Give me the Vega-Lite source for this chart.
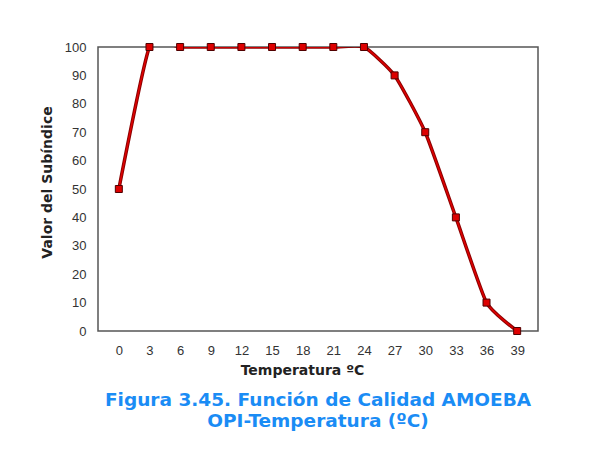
{
  "$schema": "https://vega.github.io/schema/vega-lite/v6.json",
  "width": 440,
  "height": 284,
  "autosize": "none",
  "padding": {"left": 98, "top": 47, "right": 64, "bottom": 128},
  "background": "#ffffff",
  "data": {"values": [
    {"t": 0, "v": 50}, {"t": 3, "v": 100}, {"t": 6, "v": 100}, {"t": 9, "v": 100},
    {"t": 12, "v": 100}, {"t": 15, "v": 100}, {"t": 18, "v": 100}, {"t": 21, "v": 100},
    {"t": 24, "v": 100}, {"t": 27, "v": 90}, {"t": 30, "v": 70}, {"t": 33, "v": 40},
    {"t": 36, "v": 10}, {"t": 39, "v": 0}
  ]},
  "title": {
    "text": ["Figura 3.45. Función de Calidad AMOEBA", "OPI-Temperatura (ºC)"],
    "orient": "bottom",
    "anchor": "middle",
    "font": "DejaVu Sans",
    "fontSize": 18.5,
    "fontWeight": "bold",
    "color": "#1a8cf5",
    "lineHeight": 21,
    "offset": 14
  },
  "config": {
    "view": {"stroke": "#555555", "strokeWidth": 1.5},
    "axis": {
      "grid": false, "ticks": false, "domain": false,
      "labelFont": "Liberation Sans", "labelFontSize": 13, "labelColor": "#333333",
      "titleFont": "DejaVu Sans", "titleFontSize": 14, "titleFontWeight": "bold", "titleColor": "#222222"
    }
  },
  "encoding": {
    "x": {
      "field": "t", "type": "ordinal",
      "scale": {"type": "point", "padding": 0.68},
      "axis": {"title": "Temperatura ºC", "labelAngle": 0, "labelPadding": 13, "titlePadding": 6, "titleX": 204}
    },
    "y": {
      "field": "v", "type": "quantitative",
      "scale": {"domain": [0, 100], "nice": false},
      "axis": {"title": "Valor del Subíndice", "values": [0,10,20,30,40,50,60,70,80,90,100], "labelPadding": 12, "titlePadding": 10, "titleY": 135}
    }
  },
  "layer": [
    {"mark": {"type": "line", "interpolate": "cardinal", "tension": 0.5, "color": "#8a0000", "strokeWidth": 3.5, "clip": true}},
    {"mark": {"type": "line", "interpolate": "cardinal", "tension": 0.5, "color": "#e00000", "strokeWidth": 1.5, "clip": true}},
    {"mark": {"type": "square", "size": 49, "filled": true, "fill": "#dd0000", "stroke": "#500000", "strokeWidth": 1, "opacity": 1}}
  ]
}
